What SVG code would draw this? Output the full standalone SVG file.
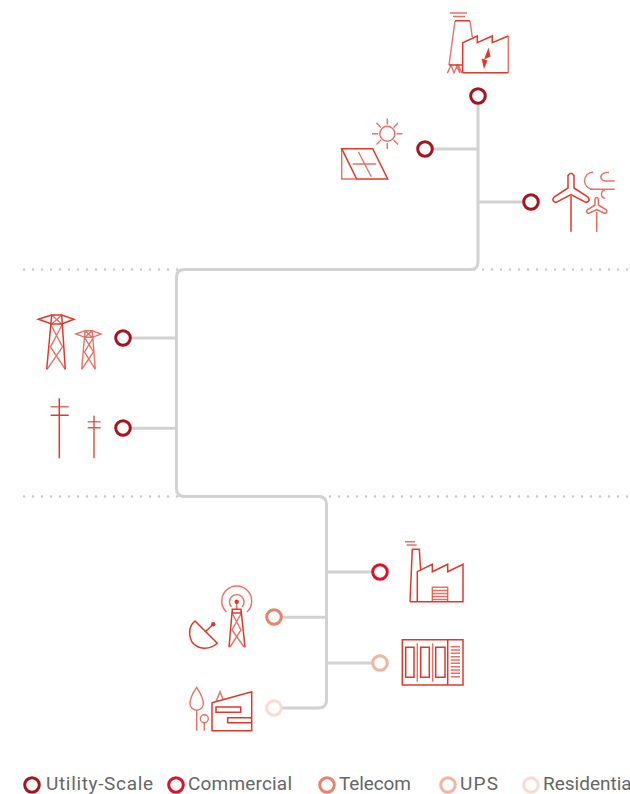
<svg xmlns="http://www.w3.org/2000/svg" width="630" height="794" viewBox="0 0 630 794">
<style>
.wire{fill:none;stroke:#d2d2d2;stroke-width:3}
.dots{fill:none;stroke:#c9c9c9;stroke-width:2.4;stroke-linecap:round;stroke-dasharray:.1 8.9}
.dot{fill:#fff;stroke-width:3}
.util{stroke:#a6141e}.comm{stroke:#d9142b}.tele{stroke:#e8836b}.ups{stroke:#f2b5a0}.resi{stroke:#f9dcd0}
.ic{fill:none;stroke:#e0392b;stroke-width:1.5}
.lt{fill:none;stroke:#e0392b;stroke-width:1.4;opacity:.72}
.fill{fill:#e0392b;stroke:none}
text{font-family:Roboto,"Liberation Sans",sans-serif;font-size:19px;fill:#666}
</style>
<g id="dividers">
<path class="dots" d="M24 269.500H630M24 496.500H630"/>
</g>
<g id="connectors">
<path class="wire" d="M478 103V262Q478 269.500 470 269.500H184.500Q176.500 269.500 176.500 277V488.500Q176.500 496.500 184.500 496.500H318.500Q326.500 496.500 326.500 504.500V700Q326.500 708 318.500 708H281"/>
<path class="wire" d="M432 149H478M478 202H524M130 338H176.500M130 428.300H176.500M326.500 572H373M281 617.300H326.500M326.500 663H373"/>
</g>
<g id="node-power-plant">
<circle class="dot util" cx="478" cy="96" r="7.300"/>
<path class="lt" d="M450 13H467M453 16.500H465M449 65L455 21M470 21L472.300 37M508.300 36V72.700"/>
<path class="ic" d="M455 20.700H470M449 65H462.700M462.700 72.700V42.700L477.300 36V42.700L492.300 36V42.700L508.300 36M462.700 72.700H508.300"/>
<path class="lt" d="M447.300 73.300L451 65L454 73L457.500 65L460 73L456 65M458 65L462 73"/>
<path class="fill" d="M488.500 47.500L490.500 56.500L484 59.500ZM481.500 58.500L487.500 60.500L484 69Z"/>
</g>
<g id="node-solar">
<circle class="dot util" cx="425" cy="149" r="7.300"/>
<path class="ic" d="M341.700 148.700H372.700L387.700 179H356.700Z"/>
<path class="lt" d="M341.700 148.700V179H356.700M358.300 151.700L371.300 176.700M352.700 164H376"/>
<circle class="lt" cx="387.300" cy="133.700" r="7.500"/>
<path class="lt" d="M387.300 118.500V124.500M387.300 143V149M372 133.700H378M396.500 133.700H402.500M376.500 123L381 127.500M393.500 140L398 144.500M398 123L393.500 127.500M381 140L376.500 144.500"/>
</g>
<g id="node-wind">
<circle class="dot util" cx="531" cy="202" r="7.300"/>
<path class="ic" d="M571 231.700V196M568 188L568 175.500Q571 171 574 175.500L574 188L588 197Q591 201 586 202.500L571 194.500L556 202.500Q551 201 554 197Z"/>
<path class="ic" style="opacity:.75" d="M596.700 232V212M595 205L595 199Q596.700 196 598.400 199L598.400 205L606.500 210Q607.500 213 605 213.500L596.700 209.500L588.500 213.500Q586 213 587 210Z"/>
<path class="lt" d="M593 172.300A8.500 8.500 0 1 0 593 189.300M609 172.500C603 171.500 600 176 601 178C602 180.500 604 181 606 181H614.700M590 189.300H614.700M605 190A4.200 4.200 0 0 0 605 198.300"/>
</g>
<g id="node-transmission">
<circle class="dot util" cx="123" cy="338" r="7.300"/>
<path class="ic" d="M38.300 319.300L51.700 315H61.700L74 319.300L61.700 324H51.700ZM51.700 315L46.700 369.300M61.700 315L65.300 369.300"/>
<path class="lt" d="M51.700 315L61.700 324M61.700 315L51.700 324M50.500 324L62.500 347L47 369.300M62.500 324L50.500 347L65.300 369.300"/>
<path class="lt" d="M76 334L85 330.700H92.300L101 334L92.300 337.300H85ZM85 330.700L81.700 369.300M92.300 330.700L95.300 369.300M85 330.700L92.300 337.300M92.300 330.700L85 337.300M84.500 337.300L93.500 352L81.700 369.300M93.500 337.300L84.500 352L95.300 369.300"/>
</g>
<g id="node-distribution">
<circle class="dot util" cx="123" cy="428" r="7.300"/>
<path class="ic" d="M59.300 398.300V458.300M50.700 415.300H68.700"/>
<path class="lt" d="M50.700 406.700H68.700M87.700 421.700H100.700"/>
<path class="ic" style="opacity:.85" d="M94 415.700V458.300M87.700 427.700H100.700"/>
</g>
<g id="node-factory">
<circle class="dot comm" cx="380" cy="572" r="7.300"/>
<path class="lt" d="M405 541.700H415M406.700 545H416.700M432.300 590.500H447.700M432.300 593.500H447.700M432.300 596.500H447.700M432.300 599.500H447.700"/>
<path class="ic" d="M410 601.700L412.300 549.300H419.300L420.700 570.700M417.300 601.700V571.700L432.300 564.300V571.700L447.700 564.300V571.700L463 564.300V601.700H410"/>
<path class="lt" d="M432.300 601.700V587.300H447.700V601.700"/>
</g>
<g id="node-telecom">
<circle class="dot tele" cx="274" cy="617" r="7.300"/>
<circle class="fill" cx="236.700" cy="601.700" r="2.200"/>
<path class="lt" d="M231.500 607A7.300 7.300 0 1 1 242 607M226.500 612A15 15 0 1 1 247 612M236.700 603V609"/>
<path class="ic" d="M232.300 609.300H241V613H232.300ZM232.300 609.300L229 647.300M241 609.300L245 647.300"/>
<path class="lt" d="M232 613L241 630L230 647M241.500 613L232 630L244 647"/>
<path class="ic" d="M195 621L217.300 643.300C210 650 198 650 192 642C188 634 189 626 195 621Z"/>
<path class="ic" d="M205 632L213.300 624.300"/>
<circle class="fill" cx="213.300" cy="624.300" r="2.200"/>
</g>
<g id="node-ups">
<circle class="dot ups" cx="380" cy="663" r="7.300"/>
<path class="ic" d="M402.300 639.700H463V685H402.300ZM447.700 639.700V685M405.700 647.300H414V677.300H405.700ZM420.700 647.300H429.300V677.300H420.700ZM435.700 647.300H445V677.300H435.700Z"/>
<path class="lt" d="M417.300 643.300V681.700M432.700 643.300V681.700"/>
<path class="lt" d="M450.700 646.700H460M450.700 650H460M450.700 653.300H460M450.700 656.700H460M450.700 660H460M450.700 663.300H460M450.700 666.700H460M450.700 670H460M450.700 673.300H460M450.700 676.700H460"/>
</g>
<g id="node-residential">
<circle class="dot resi" cx="274" cy="708" r="7.300"/>
<path class="lt" d="M196.700 687.300C192 694 190 700 190 703.500A6.700 6.700 0 0 0 203.400 703.500C203.400 700 201 694 196.700 687.300ZM196.700 710.500V730.700M204.300 722.700V730.700M216 701.700L220 691.700L223.300 700"/>
<circle class="lt" cx="204.300" cy="718.700" r="4"/>
<path class="ic" d="M212 702.700L251.700 691.700V730.700H212ZM216 707H240.700V712.300H216ZM251.700 717.700H227.700V722.700H251.700"/>
</g>
<g id="legend">
<circle class="dot util" cx="32" cy="785" r="7.300"/><text x="46" y="789.500" textLength="107">Utility-Scale</text>
<circle class="dot comm" cx="176" cy="785" r="7.300"/><text x="188" y="789.500" textLength="104">Commercial</text>
<circle class="dot tele" cx="327" cy="785" r="7.300"/><text x="339" y="789.500" textLength="72">Telecom</text>
<circle class="dot ups" cx="448" cy="785" r="7.300"/><text x="460" y="789.500" textLength="38">UPS</text>
<circle class="dot resi" cx="531" cy="785" r="7.300"/><text x="543" y="789.500">Residential</text>
</g>
</svg>
